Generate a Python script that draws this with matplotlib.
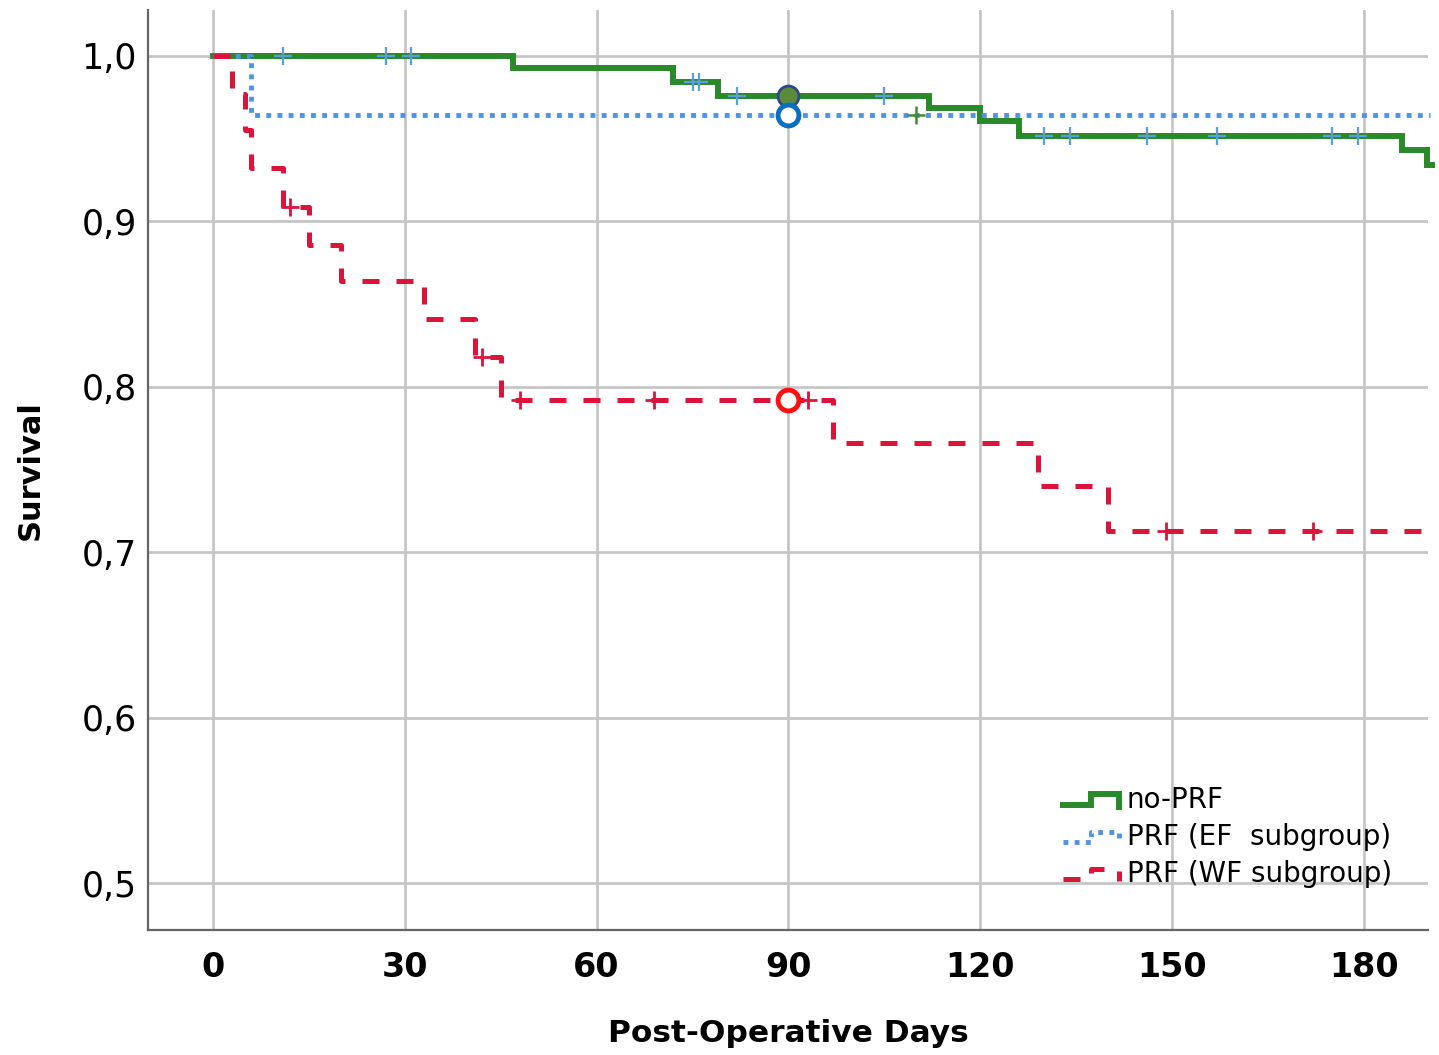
import numpy as np
import matplotlib
matplotlib.use("Agg")
import matplotlib.pyplot as plt
from matplotlib.lines import Line2D
from matplotlib.legend_handler import HandlerBase

# Kaplan-Meier step data
nonprf_days = [0, 47, 72, 79, 112, 120, 126, 186, 189.8, 190.6]
nonprf_surv = [1.0, 0.9925, 0.9845, 0.976, 0.9685, 0.9605, 0.9515, 0.943, 0.934, 0.934]
nonprf_cens = [11, 27, 31, 75, 76, 82, 105, 130, 134, 146, 157, 175, 179]

ef_days = [0, 6, 190.3]
ef_surv = [1.0, 0.9643, 0.9643]
ef_cens = [110]

wf_days = [0, 3, 5, 6, 11, 15, 20, 33, 41, 45, 97, 129, 140, 190.3]
wf_surv = [1.0, 0.977, 0.955, 0.932, 0.909, 0.886, 0.864, 0.841, 0.818, 0.792,
           0.766, 0.740, 0.713, 0.713]
wf_cens = [12, 42, 48, 69, 93, 149, 172]

milestone_day = 90

labels = ["no-PRF", "PRF (EF  subgroup)", "PRF (WF subgroup)"]
xticks = [0, 30, 60, 90, 120, 150, 180]
yticks = [0.5, 0.6, 0.7, 0.8, 0.9, 1.0]
ytick_labels = ["0,5", "0,6", "0,7", "0,8", "0,9", "1,0"]

GREEN = "#2a8a2a"
BLUE = "#4f94e2"
RED = "#dc143c"


def surv_at(days, surv, t):
    i = np.searchsorted(days, t, side="right") - 1
    return np.asarray(surv)[i]


class StepHandler(HandlerBase):
    def create_artists(self, legend, orig_handle, xdescent, ydescent,
                       width, height, fontsize, trans):
        x0 = -xdescent
        lo = -ydescent + 0.15 * height
        hi = -ydescent + 0.7 * height
        xs = [x0, x0 + 0.5 * width, x0 + 0.5 * width, x0 + width, x0 + width]
        ys = [lo, lo, hi, hi, lo - 0.1 * height]
        line = Line2D(xs, ys)
        line.update_from(orig_handle)
        line.set_marker("None")
        line.set_transform(trans)
        return [line]


fig = plt.figure(figsize=(14.39, 10.55), dpi=100)
ax = fig.add_axes([148 / 1439, 1 - 930 / 1055, 1280 / 1439, 920 / 1055])

g, = ax.step(nonprf_days, nonprf_surv, where="post", color=GREEN, lw=4.3,
             zorder=3, clip_on=False, solid_joinstyle="miter")
b, = ax.step(ef_days, ef_surv, where="post", color=BLUE, lw=3.5,
             linestyle=(0, (1, 1.3)), zorder=4, clip_on=False)
r, = ax.step(wf_days, wf_surv, where="post", color=RED, lw=3.6,
             linestyle=(0, (3.4, 3.4)), dash_capstyle="butt", zorder=5, clip_on=False)

# censor marks
ax.plot(nonprf_cens, surv_at(nonprf_days, nonprf_surv, nonprf_cens), "+",
        color="#5b9be2", ms=13, mew=1.6, zorder=6)
ax.plot(ef_cens, surv_at(ef_days, ef_surv, ef_cens), "+",
        color="#3d8a3d", ms=13, mew=1.8, zorder=6)
ax.plot(wf_cens, surv_at(wf_days, wf_surv, wf_cens), "+",
        color=RED, ms=13, mew=2.0, zorder=6)

# 90-day milestone circles
ax.plot([milestone_day], [surv_at(nonprf_days, nonprf_surv, milestone_day)], "o",
        ms=15, mfc="#5a8a3a", mec="#2c4a8a", mew=2, zorder=8)
ax.plot([milestone_day], [surv_at(ef_days, ef_surv, milestone_day)], "o",
        ms=15, mfc="white", mec="#0a6fc2", mew=3.5, zorder=8)
ax.plot([milestone_day], [surv_at(wf_days, wf_surv, milestone_day)], "o",
        ms=15, mfc="white", mec="#ff1010", mew=3.5, zorder=8)

ax.set_xlim(-10.15, 190.0)
ax.set_ylim(0.4716, 1.0278)
ax.set_xticks(xticks)
ax.set_xticklabels([str(t) for t in xticks], fontsize=24, fontweight="bold")
ax.set_yticks(yticks)
ax.set_yticklabels(ytick_labels, fontsize=25)
ax.tick_params(axis="x", length=0, pad=15)
ax.tick_params(axis="y", length=0, pad=8)
ax.grid(True, color="#c6c6c6", lw=2)
ax.set_axisbelow(True)
for s in ["top", "right"]:
    ax.spines[s].set_visible(False)
for s in ["left", "bottom"]:
    ax.spines[s].set_color("#666666")
    ax.spines[s].set_linewidth(1.6)

ax.set_xlabel("Post-Operative Days", fontsize=22.5, fontweight="bold")
ax.set_ylabel("Survival", fontsize=22, fontweight="bold")
ax.xaxis.set_label_coords(0.5, -0.0965)
ax.yaxis.set_label_coords(-0.0805, 0.5)

ax.legend([g, b, r], labels, handler_map={Line2D: StepHandler()},
          loc="upper left", bbox_to_anchor=(1063 / 1439, 1 - 786 / 1055),
          bbox_transform=fig.transFigure, frameon=False, fontsize=20,
          handlelength=2.0, handletextpad=0.3, labelspacing=0.33,
          borderpad=0, borderaxespad=0)

fig.savefig("out.png", dpi=100)
